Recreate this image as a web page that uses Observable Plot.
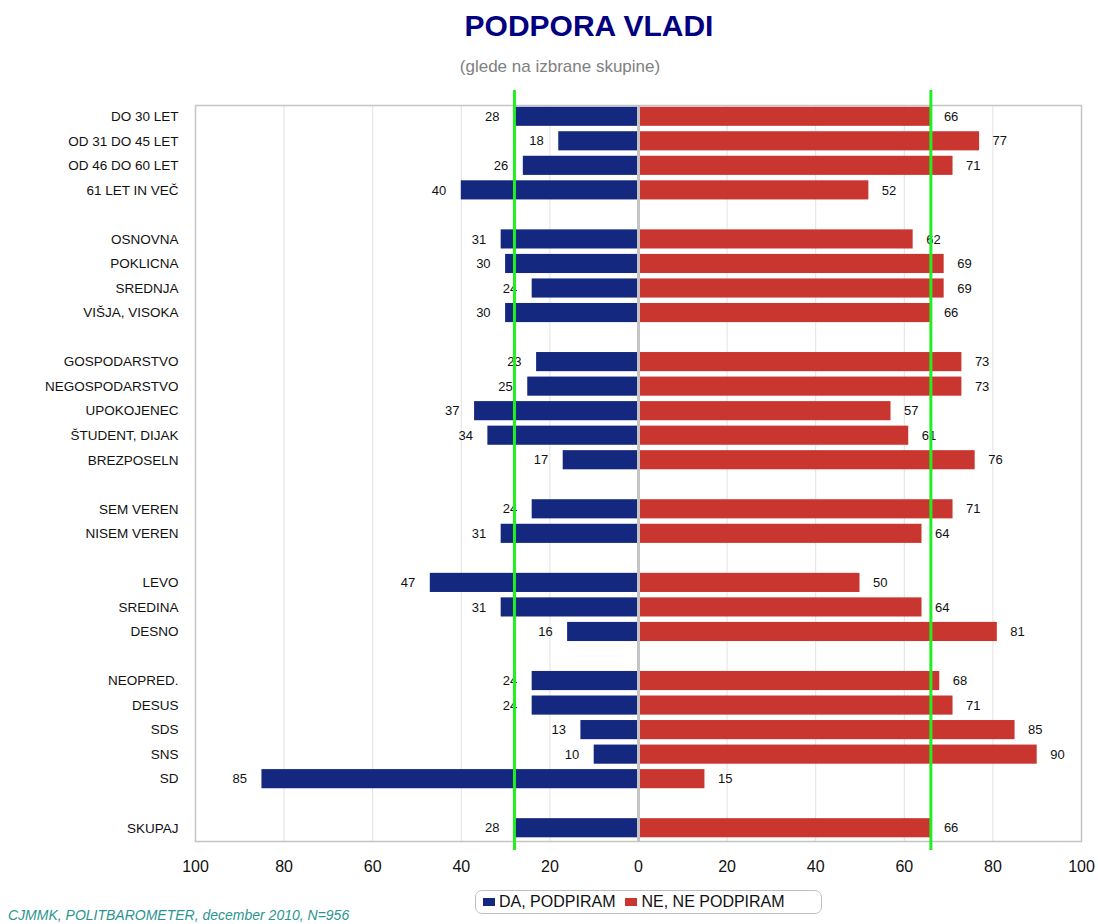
<!DOCTYPE html>
<html>
<head>
<meta charset="utf-8">
<script src="https://cdn.jsdelivr.net/npm/d3@7"></script>
<script src="https://cdn.jsdelivr.net/npm/@observablehq/plot@0.6"></script>
<style>
  html, body { margin: 0; padding: 0; background: #fff; }
  body { width: 1098px; height: 924px; position: relative; font-family: "Liberation Sans", Arial, sans-serif; overflow: hidden; }
  #header { position: relative; height: 88px; }
  #title { position: absolute; left: 589px; top: 11px; transform: translateX(-50%); font-size: 30px; line-height: 30px; font-weight: bold; color: #000080; white-space: nowrap; }
  #subtitle { position: absolute; left: 560px; top: 58px; transform: translateX(-50%); font-size: 17px; line-height: 17px; color: #808080; white-space: nowrap; }
  #chart { height: 792px; }
  #footer { position: relative; height: 44px; }
  #legend { position: absolute; left: 475px; top: 10px; width: 345px; height: 22px; border: 1px solid #c0c0c0; border-radius: 7px; display: flex; align-items: center; font-size: 16px; color: #111; white-space: nowrap; box-sizing: content-box; }
  .sw { display: inline-block; width: 12px; height: 8px; margin-right: 4px; }
  #caption { position: absolute; left: 8px; top: 28px; font-size: 14px; line-height: 14px; font-style: italic; color: #2a9590; white-space: nowrap; }
</style>
</head>
<body>
<div id="header">
  <div id="title">PODPORA VLADI</div>
  <div id="subtitle">(glede na izbrane skupine)</div>
</div>
<div id="chart"></div>
<div id="footer">
  <div id="legend"></div>
  <div id="caption">CJMMK, POLITBAROMETER, december 2010, N=956</div>
</div>
<script>
// ---- data ----
const groupStarost   = ["DO 30 LET", "OD 31 DO 45 LET", "OD 46 DO 60 LET", "61 LET IN VEČ"];
const groupIzobrazba = ["OSNOVNA", "POKLICNA", "SREDNJA", "VIŠJA, VISOKA"];
const groupStatus    = ["GOSPODARSTVO", "NEGOSPODARSTVO", "UPOKOJENEC", "ŠTUDENT, DIJAK", "BREZPOSELN"];
const groupVera      = ["SEM VEREN", "NISEM VEREN"];
const groupPolitika  = ["LEVO", "SREDINA", "DESNO"];
const groupStranke   = ["NEOPRED.", "DESUS", "SDS", "SNS", "SD"];
const groupSkupaj    = ["SKUPAJ"];

const daValues = [28, 18, 26, 40,  31, 30, 24, 30,  23, 25, 37, 34, 17,  24, 31,  47, 31, 16,  24, 24, 13, 10, 85,  28];
const neValues = [66, 77, 71, 52,  62, 69, 69, 66,  73, 73, 57, 61, 76,  71, 64,  50, 64, 81,  68, 71, 85, 90, 15,  66];

const seriesNames = ["DA, PODPIRAM", "NE, NE PODPIRAM"];
const seriesColors = ["#13287e", "#c9362f"];
const xTicks = [-100, -80, -60, -40, -20, 0, 20, 40, 60, 80, 100];

// ---- build ----
const groups = [groupStarost, groupIzobrazba, groupStatus, groupVera, groupPolitika, groupStranke, groupSkupaj];
const domain = [];
groups.forEach((g, i) => {
  if (i > 0) domain.push("gap" + i);
  domain.push(...g);
});
const categories = groups.flat();
const rows = categories.map((c, i) => ({cat: c, da: daValues[i], ne: neValues[i]}));
const total = rows.find(r => r.cat === "SKUPAJ");

const plot = Plot.plot({
  width: 1098,
  height: 792,
  marginTop: 17,
  marginBottom: 39,
  marginLeft: 195,
  marginRight: 17,
  style: {fontFamily: "'Liberation Sans', Arial, sans-serif", fontSize: "13px", color: "#111", background: "#fff", overflow: "visible"},
  x: {domain: [-100, 100]},
  y: {domain, range: [16, 752], paddingInner: 0.22, paddingOuter: 0.11, align: 0.5, round: false},
  marks: [
    Plot.gridX(xTicks, {stroke: "#e2e2e2", strokeOpacity: 1, strokeWidth: 1}),
    Plot.barX(rows, {y: "cat", x1: 0, x2: d => -d.da, fill: seriesColors[0]}),
    Plot.barX(rows, {y: "cat", x1: 0, x2: d => d.ne, fill: seriesColors[1]}),
    Plot.ruleX([0], {stroke: "#c4c4c4", strokeWidth: 3}),
    Plot.frame({stroke: "#c4c4c4", strokeWidth: 1.5}),
    Plot.text(rows, {y: "cat", x: d => -d.da, text: d => String(d.da), dx: -15, textAnchor: "end", fontSize: 13, fill: "#111"}),
    Plot.text(rows, {y: "cat", x: d => d.ne, text: d => String(d.ne), dx: 13, textAnchor: "start", fontSize: 13, fill: "#111"}),
    Plot.ruleX([-total.da, total.ne], {stroke: "#22ee22", strokeWidth: 3, insetTop: -15, insetBottom: -9}),
    Plot.axisY({tickSize: 0, tickPadding: 17, fontSize: 13.5, label: null, tickFormat: d => d.startsWith("gap") ? "" : d}),
    Plot.axisX({ticks: xTicks, tickSize: 0, tickPadding: 19, fontSize: 16, label: null, tickFormat: d => String(Math.abs(d))})
  ]
});
document.getElementById("chart").appendChild(plot);

// legend
const legend = document.getElementById("legend");
seriesNames.forEach((name, i) => {
  const item = document.createElement("span");
  item.style.display = "inline-flex";
  item.style.alignItems = "center";
  item.style.marginLeft = i === 0 ? "7px" : "10px";
  item.innerHTML = `<span class="sw" style="background:${seriesColors[i]}"></span>${name}`;
  legend.appendChild(item);
});
</script>
</body>
</html>
